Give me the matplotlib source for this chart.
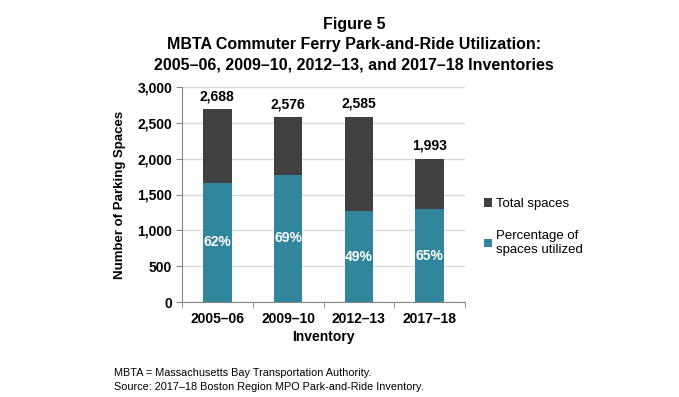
import matplotlib.pyplot as plt
import numpy as np

plt.rcParams['font.family'] = ['Liberation Sans', 'DejaVu Sans']

inventories = ['2005–06', '2009–10', '2012–13', '2017–18']
total_spaces = [2688, 2576, 2585, 1993]
utilized_spaces = [1667, 1777, 1267, 1295]
pct_labels = ['62%', '69%', '49%', '65%']

teal = '#31859C'
dark = '#404040'
axis_gray = '#868686'

fig = plt.figure(figsize=(6.79, 3.97), dpi=100)
ax = fig.add_axes([182 / 679, 1 - 302 / 397, 283 / 679, 215 / 397])

x = np.arange(len(inventories))
ax.bar(x, total_spaces, width=0.4, color=dark, label='Total spaces', zorder=2)
ax.bar(x, utilized_spaces, width=0.4, color=teal, label='Percentage of\nspaces utilized', zorder=3)

# totals above the bars, percentages inside the teal part
for i in range(len(x)):
    ax.annotate(f'{total_spaces[i]:,}', (x[i], total_spaces[i]), xytext=(0, 9.5),
                textcoords='offset points', ha='center', va='center',
                fontsize=10, fontweight='bold')
    ax.text(x[i], utilized_spaces[i] / 2, pct_labels[i], ha='center', va='center',
            color='white', fontsize=10, fontweight='bold', zorder=4)

ax.set_xlim(-0.5, 3.5)
ax.set_ylim(0, 3000)
ax.set_yticks(range(0, 3001, 500))
ax.set_yticklabels([f'{v:,}' for v in range(0, 3001, 500)], fontweight='bold', fontsize=10)
ax.set_xticks(x)
ax.set_xticklabels(inventories, fontweight='bold', fontsize=10)
ax.set_xticks(np.arange(-0.5, 4, 1), minor=True)
ax.tick_params(axis='x', which='major', length=0, pad=7)
ax.tick_params(axis='x', which='minor', length=4, color=axis_gray)
ax.tick_params(axis='y', length=4, color=axis_gray, pad=3)
ax.grid(axis='y', color='#D9D9D9', linewidth=1, zorder=0)
ax.set_axisbelow(True)
for s in ['top', 'right']:
    ax.spines[s].set_visible(False)
for s in ['left', 'bottom']:
    ax.spines[s].set_color(axis_gray)

ax.set_xlabel('Inventory', fontweight='bold', fontsize=10, labelpad=3)
ax.set_ylabel('Number of Parking Spaces', fontweight='bold', fontsize=9.5, labelpad=8)

handles, labels = ax.get_legend_handles_labels()
fig.legend(handles, labels, loc='center left', bbox_to_anchor=(472 / 679, 1 - 227 / 397),
           frameon=False, fontsize=9.5, handlelength=0.6, handleheight=0.6,
           handletextpad=0.3, labelspacing=1.5)

fig.text(354 / 679, 1 - 24 / 397, 'Figure 5', ha='center', va='center',
         fontsize=11.5, fontweight='bold')
fig.text(354 / 679, 1 - 45 / 397, 'MBTA Commuter Ferry Park-and-Ride Utilization:',
         ha='center', va='center', fontsize=11.5, fontweight='bold')
fig.text(354 / 679, 1 - 65 / 397, '2005–06, 2009–10, 2012–13, and 2017–18 Inventories',
         ha='center', va='center', fontsize=11.5, fontweight='bold')

fig.text(114 / 679, 1 - 373 / 397, 'MBTA = Massachusetts Bay Transportation Authority.',
         ha='left', va='center', fontsize=7.8)
fig.text(114 / 679, 1 - 387 / 397, 'Source: 2017–18 Boston Region MPO Park-and-Ride Inventory.',
         ha='left', va='center', fontsize=7.8)

fig.savefig('out.png', dpi=100)
